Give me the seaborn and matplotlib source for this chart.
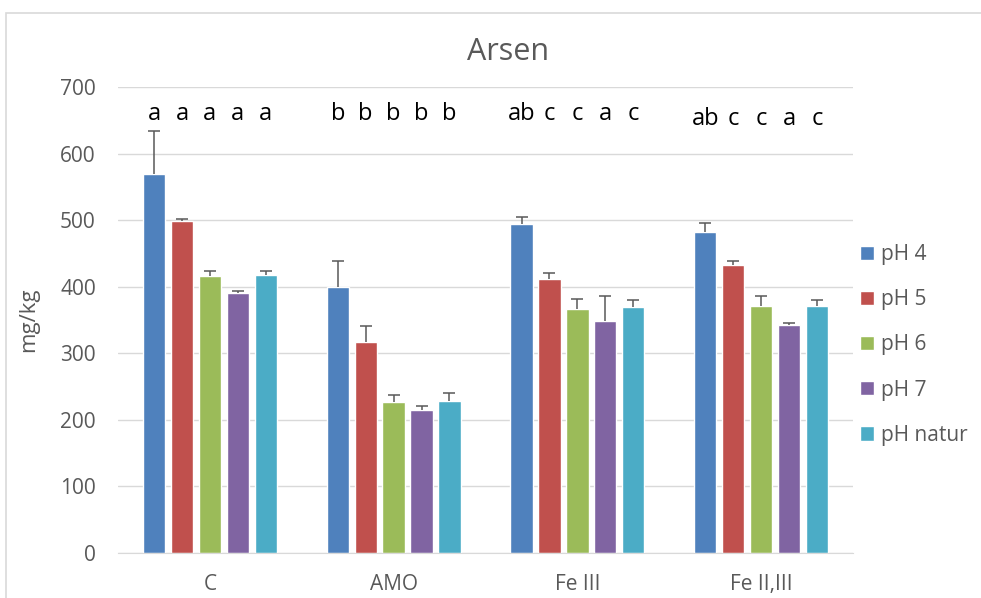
import matplotlib
matplotlib.use('Agg')
import matplotlib.pyplot as plt
import seaborn as sns
import pandas as pd
from matplotlib.patches import Rectangle

# data
categories = ['C', 'AMO', 'Fe III', 'Fe II,III']
treatments = ['pH 4', 'pH 5', 'pH 6', 'pH 7', 'pH natur']

ph4 = [569, 399, 494, 482]
ph5 = [499, 317, 412, 432]
ph6 = [416, 227, 367, 371]
ph7 = [390, 215, 348, 342]
ph_natur = [417, 228, 369, 371]

ph4_err = [65, 40, 11, 14]
ph5_err = [3, 24, 9, 7]
ph6_err = [8, 11, 15, 15]
ph7_err = [4, 6, 38, 4]
ph_natur_err = [6, 13, 11, 9]

# significance letters, one row per category
letters = [['a', 'a', 'a', 'a', 'a'],
           ['b', 'b', 'b', 'b', 'b'],
           ['ab', 'c', 'c', 'a', 'c'],
           ['ab', 'c', 'c', 'a', 'c']]
letter_y = [650, 650, 650, 643]

colors = ['#4F81BD', '#C0504D', '#9BBB59', '#8064A2', '#4BACC6']

values = [ph4, ph5, ph6, ph7, ph_natur]
errors = [ph4_err, ph5_err, ph6_err, ph7_err, ph_natur_err]

rows = []
for t, vals in zip(treatments, values):
    for c, v in zip(categories, vals):
        rows.append({'category': c, 'treatment': t, 'value': v})
df = pd.DataFrame(rows)

sns.set_style('white')
plt.rcParams['font.family'] = ['Open Sans', 'DejaVu Sans']

W, H = 981, 598
fig = plt.figure(figsize=(W / 100, H / 100), dpi=100)
ax = fig.add_axes([118 / W, 1 - 553 / H, 735 / W, 466 / H])

sns.barplot(data=df, x='category', y='value', hue='treatment',
            order=categories, hue_order=treatments, palette=colors,
            width=0.76, gap=0.2, errorbar=None, saturation=1,
            ax=ax)

bar_containers = list(ax.containers)

# upper-only error bars like the excel original
for i, cont in enumerate(bar_containers):
    for j, bar in enumerate(cont.patches):
        xc = bar.get_x() + bar.get_width() / 2
        eb = ax.errorbar([xc], [values[i][j]], yerr=[[0], [errors[i][j]]],
                         fmt='none', ecolor='#595959', elinewidth=1.1,
                         capsize=4.3, capthick=1.1, zorder=3)
        eb[1][0].set_visible(False)
        ax.text(xc, letter_y[j], letters[j][i], ha='center', va='baseline',
                fontsize=17, color='black')

ax.set_xlim(-0.5, len(categories) - 0.5)
ax.set_ylim(0, 700)
ax.set_yticks(range(0, 701, 100))
ax.yaxis.grid(True, color='#d9d9d9', linewidth=1)
ax.set_axisbelow(True)
for s in ['top', 'right', 'left']:
    ax.spines[s].set_visible(False)
ax.spines['bottom'].set_color('#d9d9d9')
ax.tick_params(axis='y', length=0, labelsize=15, colors='#595959', pad=16)
ax.tick_params(axis='x', length=0, labelsize=15, colors='#595959', pad=15)
ax.set_xlabel('')
ax.set_ylabel('mg/kg', fontsize=16, color='#595959')
ax.yaxis.set_label_coords((39 - 118) / 735, 0.5)

fig.text(508 / W, 1 - 60 / H, 'Arsen', fontsize=22, color='#595959',
         ha='center', va='baseline')

handles, labels = ax.get_legend_handles_labels()
ax.legend(handles, labels, loc='center left',
          bbox_to_anchor=(860 / W, 1 - 345 / H),
          bbox_transform=fig.transFigure, frameon=False, fontsize=15,
          borderpad=0, borderaxespad=0,
          handlelength=0.67, handleheight=0.67, handletextpad=0.35,
          labelspacing=1.16, labelcolor='#595959')

# chart frame
fig.patches.append(Rectangle((6 / W, -0.05), 1.0, 1 - 13 / H + 0.05,
                             transform=fig.transFigure, fill=False,
                             edgecolor='#d9d9d9', linewidth=1.2))

fig.savefig('out.png', dpi=100)
